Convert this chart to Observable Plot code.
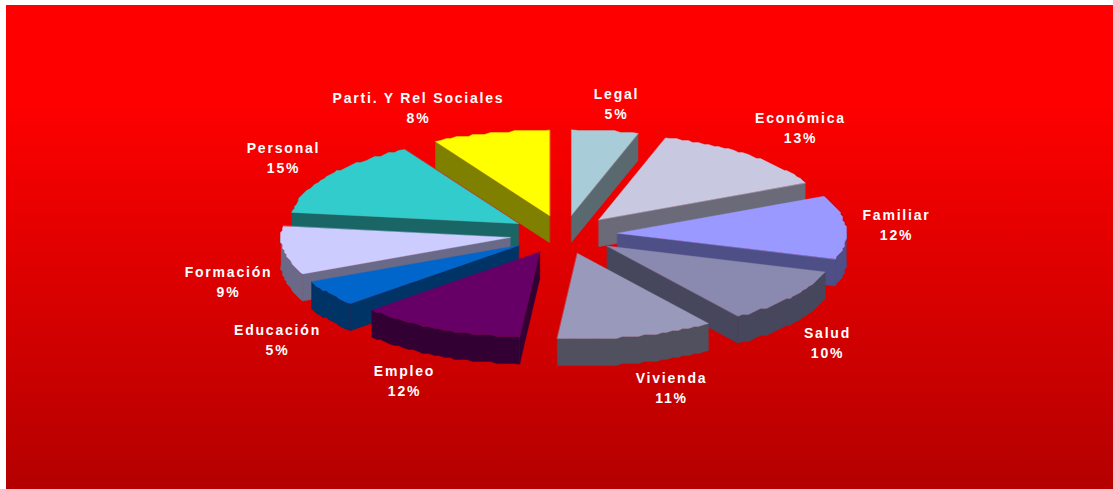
<!DOCTYPE html>
<html>
<head>
<meta charset="utf-8">
<script src="https://cdn.jsdelivr.net/npm/d3@7"></script>
<script src="https://cdn.jsdelivr.net/npm/@observablehq/plot@0.6"></script>
<style>
html,body{margin:0;padding:0;background:#fff;overflow:hidden;width:1113px;height:489px}
#chart{position:absolute;left:6px;top:5px;width:1107px;height:484px}
#chart svg{display:block}
#chart text{letter-spacing:1.8px}
</style>
</head>
<body>
<div id="chart"></div>
<script>
// Data, clockwise from twelve o'clock
const categories = ["Legal","Económica","Familiar","Salud","Vivienda","Empleo","Educación","Formación","Personal","Parti. Y Rel Sociales"];
const percents   = [5,13,12,10,11,12,5,9,15,8];                          // as labelled
const shares     = [4.7,13.2,12.0,10.4,11.1,11.7,4.9,9.1,14.6,8.3];
const topColors  = ["#a8ccd8","#c8c8e0","#9999ff","#8a8ab0","#9999bb","#660066","#0066cc","#ccccff","#33cccc","#ffff00"];
const sideColors = ["#59696f","#6a6a78","#4f4f87","#46465c","#50505f","#330033","#003366","#6a6a88","#1a6666","#808000"];

// Projection of the tilted, exploded pie
const cx = 563, cy = 234, rx = 229, ry = 85.5, depth = 27, explodeX = 54, explodeY = 19.5;
// Label block centre relative to the pie centre (same order as categories)
const labelDx = [53,237,333,264,108,-159,-286,-335,-280,-145];
const labelDy = [-132,-108,-10.5,107,152,145,104,46,-78,-128];

const rad = d => d * Math.PI / 180;
const snap = v => Math.round(v / 2) * 2;
let acc = 0;
const slices = shares.map((p, i) => {
  const a0 = acc * 3.6; acc += p; const a1 = acc * 3.6; const mid = (a0 + a1) / 2;
  const ax = cx + explodeX * Math.sin(rad(mid)), ay = cy - explodeY * Math.cos(rad(mid));
  const rim = a => [ax + rx * Math.sin(rad(a)), ay - ry * Math.cos(rad(a))];
  // slightly stepped rim, as in the low-resolution original
  const rimPts = (from, to) => {
    const pts = [rim(from)];
    const n = Math.max(1, Math.round((to - from) / 1.5));
    for (let k = 1; k < n; k++) { const q = rim(from + (to - from) * k / n); pts.push([snap(q[0]), snap(q[1])]); }
    pts.push(rim(to));
    return pts;
  };
  return {i, a0, a1, ax, ay, rim, rimPts, cat: categories[i], p: percents[i]};
});

const polys = [];
const add = (key, color, pts) => pts.forEach(([x, y]) => polys.push({key, color, x, y}));
// painter's order: back to front on each side of the pie
const order = [0,9,1,8,2,7,3,6,4,5];
for (const idx of order) {
  const s = slices[idx];
  const side = sideColors[idx];
  const sinA1 = Math.sin(rad(s.a1)), sinA0 = Math.sin(rad(s.a0));
  if (sinA1 > 0.001) {
    const e = s.rim(s.a1);
    add(`${idx}-end`, side, [[s.ax, s.ay], e, [e[0], e[1] + depth], [s.ax, s.ay + depth]]);
  }
  if (sinA0 < -0.001) {
    const e = s.rim(s.a0);
    add(`${idx}-start`, side, [[s.ax, s.ay], e, [e[0], e[1] + depth], [s.ax, s.ay + depth]]);
  }
  const f = Math.max(s.a0, 90), t = Math.min(s.a1, 270);
  if (t > f) {
    const r = s.rimPts(f, t);
    add(`${idx}-rim`, side, [...r, ...r.slice().reverse().map(([x, y]) => [x, y + depth])]);
  }
  add(`${idx}-top`, topColors[idx], [[s.ax, s.ay], ...s.rimPts(s.a0, s.a1)]);
}

const labels = slices.map((s, i) => {
  return {x: cx + labelDx[i], y: cy + labelDy[i], text: `${s.cat}\n${s.p}%`};
});

const plot = Plot.plot({
  width: 1107, height: 484,
  margin: 0,
  x: {domain: [6, 1113], range: [0, 1107], axis: null},
  y: {domain: [5, 489], range: [0, 484], axis: null},
  style: {background: "linear-gradient(to bottom,#ff0000 0%,#ff0000 19%,#b40000 100%)", overflow: "visible"},
  marks: [
    Plot.line(polys, {x: "x", y: "y", z: "key", fill: "color", stroke: "color", strokeWidth: 0.4, curve: "linear-closed"}),
    Plot.text(labels, {x: "x", y: "y", text: "text", fill: "#fff", fontSize: 14, fontWeight: 700,
      fontFamily: "'Liberation Sans', Arial, sans-serif", lineHeight: 1.4, textAnchor: "middle"})
  ]
});
document.getElementById("chart").append(plot);
</script>
</body>
</html>
